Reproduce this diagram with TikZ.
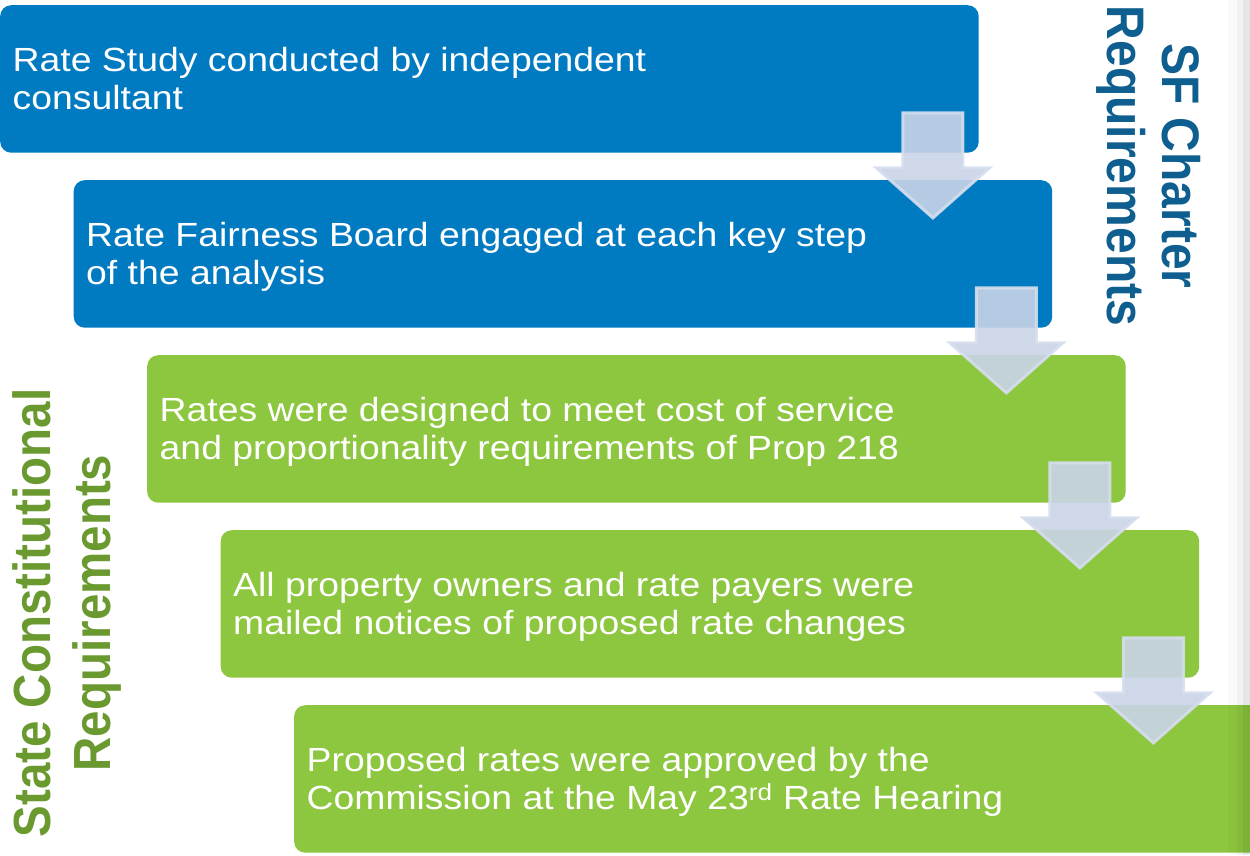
\documentclass[tikz,border=0pt]{standalone}
\usepackage{fontspec}
\setmainfont{Liberation Sans}
\begin{document}
\begin{tikzpicture}[x=1pt,y=-1pt,
  boxbase/.style={rectangle, rounded corners=11pt, minimum width=978.5pt, minimum height=147.5pt, inner sep=0pt, anchor=north west},
  bluebox/.style={boxbase, fill=boxblue},
  greenbox/.style={boxbase, fill=boxgreen},
  boxtext/.style={text=white, align=left, inner sep=0pt, anchor=base west, xscale=1.115, transform shape, font=\fontsize{33.5}{38.5}\selectfont},
  sidetext/.style={align=center, inner sep=0pt, xscale=1.1, transform shape},
  downarrow/.style={fill=arrowfill, fill opacity=0.9, draw=arrowline, draw opacity=0.9, line width=3pt, line join=miter}
]
\definecolor{boxblue}{RGB}{0,122,193}
\definecolor{boxgreen}{RGB}{141,198,63}
\definecolor{arrowfill}{RGB}{201,212,231}
\definecolor{arrowline}{RGB}{214,222,238}
\definecolor{sfblue}{RGB}{14,94,143}
\definecolor{stgreen}{RGB}{106,153,48}
\clip (0,0) rectangle (1250,855);
\fill[white] (0,0) rectangle (1250,855);

\node[bluebox] (b1) at (0,5) {};
\node[bluebox] (b2) at (73.5,180) {};
\node[greenbox] (b3) at (147,355) {};
\node[greenbox] (b4) at (220.5,530) {};
\node[greenbox] (b5) at (294,705) {};

\node[boxtext] (t1) at ([shift={(12.5,104.5)}]b1.north west) {Rate Study conducted by independent\\consultant};
\node[boxtext] (t2) at ([shift={(12.5,104.5)}]b2.north west) {Rate Fairness Board engaged at each key step\\of the analysis};
\node[boxtext] (t3) at ([shift={(12.5,104.5)}]b3.north west) {Rates were designed to meet cost of service\\and proportionality requirements of Prop 218};
\node[boxtext] (t4) at ([shift={(12.5,104.5)}]b4.north west) {All property owners and rate payers were\\mailed notices of proposed rate changes};
\node[boxtext] (t5) at ([shift={(12.5,104.5)}]b5.north west) {Proposed rates were approved by the\\Commission at the May 23\textsuperscript{rd} Rate Hearing};

\foreach \b in {b1,b2,b3,b4}{
  \begin{scope}[shift={(\b.south east)}]
    \draw[downarrow] (-76,-40) -- (-16,-40) -- (-16,15) -- (10.5,15) -- (-46,65) -- (-102.5,15) -- (-76,15) -- cycle;
  \end{scope}
}

\node[sidetext, rotate=-90, text=sfblue, font=\bfseries\fontsize{48}{50}\selectfont] (sf) at (1149,166) {SF Charter\\Requirements};
\node[sidetext, rotate=90, text=stgreen, font=\bfseries\fontsize{47.5}{54.5}\selectfont] (st) at (67,613) {State Constitutional\\Requirements};

\fill[black, opacity=0.02] (1228,0) rectangle (1237,855);
\fill[black, opacity=0.05] (1237,0) rectangle (1243,855);
\fill[black, opacity=0.10] (1243,0) rectangle (1250,855);
\end{tikzpicture}
\end{document}
